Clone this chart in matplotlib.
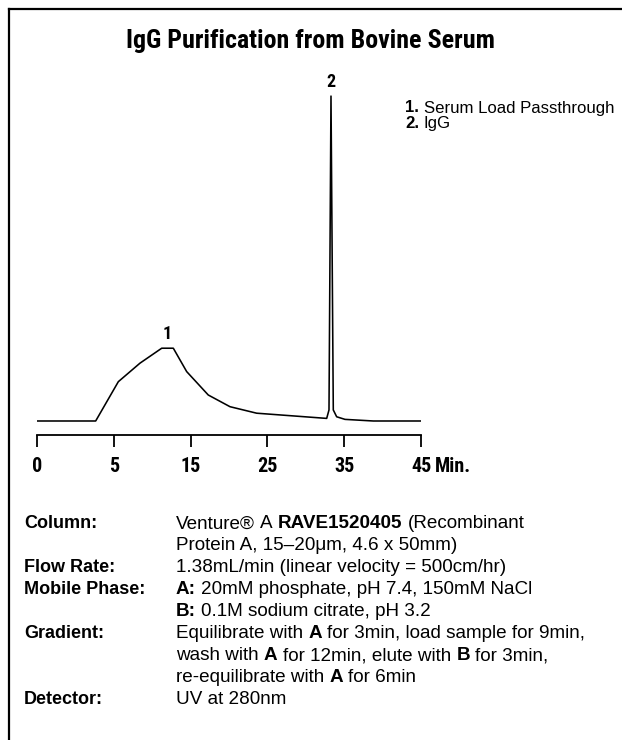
import matplotlib
matplotlib.use("Agg")
import matplotlib.pyplot as plt
from matplotlib.lines import Line2D

COND = ['Roboto Condensed', 'Liberation Sans', 'DejaVu Sans']
BODY = ['Liberation Sans', 'DejaVu Sans']
plt.rcParams['font.family'] = COND

W, H = 622, 740

# ---- data ----
time_pos = [0, 7.64, 10.59, 13.41, 16.24, 17.75, 19.49, 22.3, 25.13, 28.6,
            37.72, 38.02, 38.28, 38.58, 39.02, 40.1, 43.79, 50]
signal = [0, 0, 12.1, 17.8, 22.4, 22.4, 15.2, 8.0, 4.4, 2.4,
          0.8, 3.4, 100, 3.4, 1.3, 0.5, 0, 0]
tick_pos = [0, 10, 20, 30, 40, 50]
tick_labels = ['0', '5', '15', '25', '35', '45']
peak_x = [17.0, 38.28]
peak_y = [22.4, 100]
peak_names = ['1', '2']
legend_items = [('1.', 'Serum Load Passthrough'), ('2.', 'IgG')]

title = 'IgG Purification from Bovine Serum'

conditions = [
    ('Column:', [[('Venture®', 0), ('A', 0), ('RAVE1520405', 1), ('(Recombinant', 0)],
                 [('Protein A, 15\u201320μm, 4.6 x 50mm)', 0)]]),
    ('Flow Rate:', [[('1.38mL/min (linear velocity = 500cm/hr)', 0)]]),
    ('Mobile Phase:', [[('A:', 1), ('20mM phosphate, pH 7.4, 150mM NaCl', 0)],
                       [('B:', 1), ('0.1M sodium citrate, pH 3.2', 0)]]),
    ('Gradient:', [[('Equilibrate with', 0), ('A', 1), ('for 3min, load sample for 9min,', 0)],
                   [('wash with', 0), ('A', 1), ('for 12min, elute with', 0), ('B', 1), ('for 3min,', 0)],
                   [('re-equilibrate with', 0), ('A', 1), ('for 6min', 0)]]),
    ('Detector:', [[('UV at 280nm', 0)]]),
]

fig = plt.figure(figsize=(W / 100, H / 100), dpi=100)
fig.patch.set_facecolor('white')

# frame lines (top and left)
fig.add_artist(Line2D([9 / W, 1], [1 - 9 / H, 1 - 9 / H], color='black', lw=1.6))
fig.add_artist(Line2D([9 / W, 9 / W], [0, 1 - 9 / H], color='black', lw=1.6))

fig.text(311 / W, 1 - 41 / H, title, ha='center', va='center', fontsize=18.7,
         fontweight='bold', family=COND)

ax_left, ax_right, ax_bot, ax_top = 37, 421, 435, 60
ax = fig.add_axes([ax_left / W, 1 - ax_bot / H, (ax_right - ax_left) / W,
                   (ax_bot - ax_top) / H])
ax.plot(time_pos, signal, color='black', lw=1.15, solid_joinstyle='round')
ax.set_xlim(0, 50)
ax.set_ylim(-4.31, 111.1)
for s in ['top', 'right', 'left']:
    ax.spines[s].set_visible(False)
ax.spines['bottom'].set_linewidth(1.3)
ax.set_yticks([])
ax.set_xticks(tick_pos)
ax.set_xticklabels(tick_labels, fontsize=14.5, fontweight='bold', family=COND)
ax.tick_params(axis='x', direction='out', length=8.6, width=1.3, pad=7)
ax.patch.set_alpha(0)

for px, py, nm in zip(peak_x, peak_y, peak_names):
    ax.annotate(nm, (px, py), xytext=(0, 4), textcoords='offset points',
                ha='center', va='bottom', fontsize=13, fontweight='bold',
                family=COND)

fig.canvas.draw()
renderer = fig.canvas.get_renderer()

# "Min." after last tick label
lab = ax.get_xticklabels()[-1]
bb = lab.get_window_extent(renderer)
fig.text((bb.x1 + 4) / W, (bb.y0 + bb.y1) / 2 / H, 'Min.', fontsize=14.5,
         fontweight='bold', ha='left', va='center', family=COND)


def width_of(txt, size, bold, fam):
    t = fig.text(0, 0, txt, fontsize=size, fontweight='bold' if bold else 'normal',
                 family=fam)
    w = t.get_window_extent(renderer).width
    t.remove()
    return w


def rich_line(x, y, chunks, size, fam):
    sp = width_of('x x', size, False, fam) - width_of('xx', size, False, fam)
    for txt, b in chunks:
        t = fig.text(x / W, 1 - y / H, txt, fontsize=size, family=fam,
                     fontweight='bold' if b else 'normal', ha='left', va='center')
        x += t.get_window_extent(renderer).width + sp


# legend
for i, (num, name) in enumerate(legend_items):
    rich_line(405, 108 + i * 15.5, [(num, 1), (name, 0)], 12.1, BODY)

# conditions
y = 524
step = 22
for label, lines in conditions:
    fig.text(24 / W, 1 - y / H, label, fontsize=13, fontweight='bold',
             ha='left', va='center', family=BODY)
    for ln in lines:
        rich_line(176, y, ln, 13.6, BODY)
        y += step

fig.savefig('out.png', dpi=100, facecolor='white')
